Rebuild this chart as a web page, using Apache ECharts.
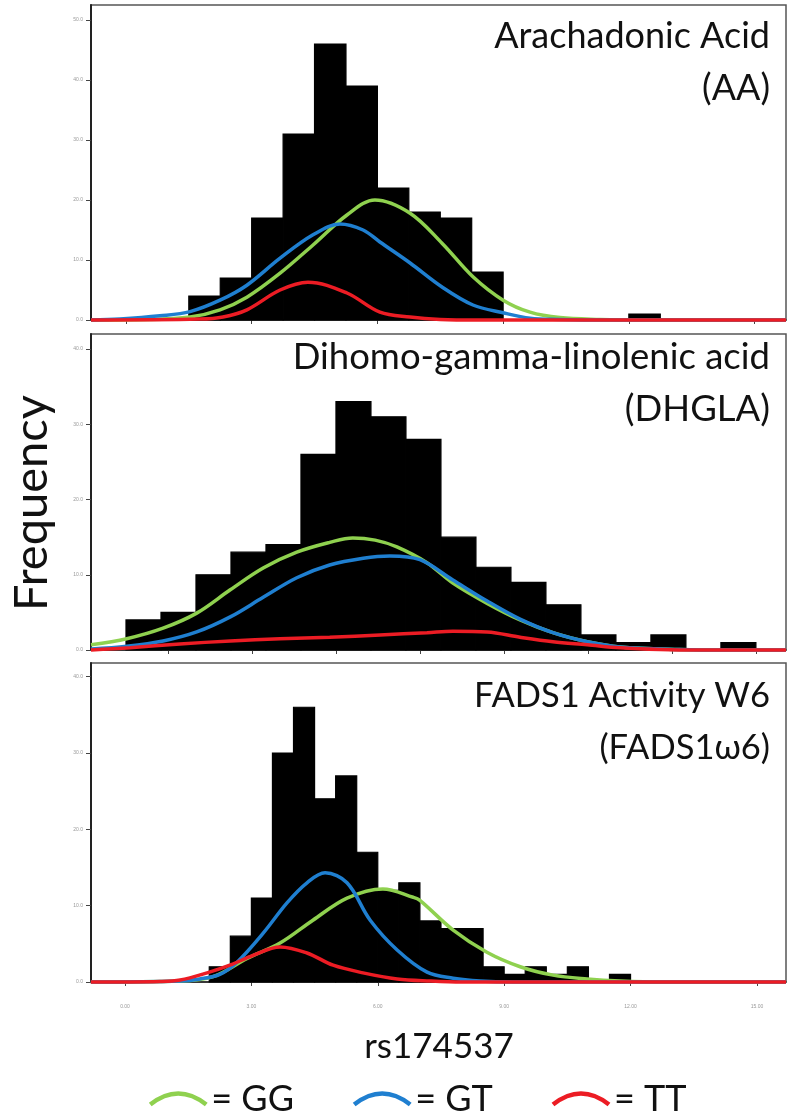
<!DOCTYPE html>
<html><head><meta charset="utf-8">
<script src="https://cdn.jsdelivr.net/npm/echarts@6/dist/echarts.min.js"></script>
<style>html,body{margin:0;padding:0;background:#fff}#c{width:797px;height:1116px}</style>
</head><body><div id="c"></div>
<script>
// ---------- Panel 1: Arachadonic Acid (AA) ----------
const aaBinStart = [2.5, 3.75, 5, 6.25, 7.5, 8.75, 10, 11.25, 12.5, 13.75, 15, 16.25, 17.5, 18.75, 20];
const aaBinWidth = 1.25;
const aaCounts = [4, 7, 17, 31, 46, 39, 22, 18, 17, 8, 0, 0, 0, 0, 1];
const aaGG = [[-1.39,0],[0.95,0.08],[2.55,0.5],[3.74,1.7],[4.81,3.8],[6.13,7.8],[7.44,12.5],[8.79,17.5],[9.9,20],[11.3,17.8],[12.57,12.8],[13.8,7.2],[15.0,3.3],[16.07,1.3],[17.26,0.4],[18.85,0.1],[20.5,0],[26.25,0]];
const aaGT = [[-1.39,0],[-0.24,0.17],[1.35,0.7],[2.55,1.4],[3.74,3.3],[4.81,5.8],[6.13,10.3],[7.44,14.2],[8.51,16],[9.43,15],[10.1,13],[11.3,9.5],[12.57,5.5],[13.8,2.5],[15.0,1.2],[16.07,0.3],[17.26,0.1],[19,0],[26.25,0]];
const aaTT = [[-1.39,0],[2.94,0.15],[3.86,0.5],[4.81,1.7],[6.13,5],[7.24,6.3],[8.79,4.5],[10.1,1.3],[11.3,0.5],[12.5,0.1],[14,0],[26.25,0]];
const aaXTicks = [0, 5, 10, 15, 20, 25];
const aaYTicks = [0, 10, 20, 30, 40, 50];

// ---------- Panel 2: DHGLA ----------
const dgBinStart = [-18, -13, -8, -3, 2, 7, 12, 17, 22, 27, 32, 37, 42, 47, 52, 57, 62, 67];
const dgBinWidth = 5;
const dgCounts = [4, 5, 10, 13, 14, 26, 33, 31, 28, 15, 11, 9, 6, 2, 1, 2, 0, 1];
const dgGG = [[-23,0.7],[-17.9,1.5],[-12.7,2.9],[-7.9,4.9],[-3.1,8.0],[1.6,10.9],[6.4,13.0],[11.1,14.3],[14.4,14.9],[17.6,14.6],[20.7,13.7],[25,11.6],[28.7,8.9],[33.6,6.2],[38.3,4.0],[43,2.3],[47.9,1.1],[52.6,0.4],[61.1,0.07],[68,0],[76.3,0]];
const dgGT = [[-23,0.13],[-17.9,0.5],[-12.7,1.2],[-7.9,2.4],[-3.1,4.4],[1.6,7.0],[6.4,9.6],[11.1,11.3],[15.9,12.2],[19.7,12.5],[24,12.0],[28.7,9.3],[33.6,6.5],[38.3,4.1],[43,2.3],[47.9,1.1],[52.6,0.4],[61.1,0.07],[68,0],[76.3,0]];
const dgTT = [[-23,0],[-17.4,0.3],[-10.3,0.8],[-3.1,1.2],[4,1.5],[11.1,1.7],[18.3,2.0],[25,2.3],[28.7,2.5],[33.6,2.4],[38.3,1.7],[43,1.1],[47.9,0.7],[52.6,0.3],[58.3,0.07],[64,0],[76.3,0]];
const dgXTicks = [-12, 0, 12, 24, 36, 48, 60, 72];
const dgYTicks = [0, 10, 20, 30, 40];

// ---------- Panel 3: FADS1 Activity W6 ----------
const fdBinStart = [2, 2.5, 3, 3.5, 4, 4.5, 5, 5.5, 6, 6.5, 7, 7.5, 8, 8.5, 9, 9.5, 10, 10.5, 11, 11.5];
const fdBinWidth = 0.5;
const fdCounts = [2, 6, 11, 30, 36, 24, 27, 17, 12, 13, 8, 7, 7, 2, 1, 2, 1, 2, 0, 1];
const fdGG = [[-0.81,0],[1.31,0.13],[2.09,0.7],[2.9,3.1],[3.68,5.1],[4.46,8.1],[5.27,11.0],[6.12,12.2],[6.84,11.1],[7.0,10.7],[7.79,6.8],[8.59,3.9],[9.38,2.0],[10.16,0.9],[10.97,0.4],[11.75,0.13],[12.8,0],[15.69,0]];
const fdGT = [[-0.81,0],[1.31,0.13],[1.78,0.4],[2.25,1.0],[2.66,2.6],[3.28,6.4],[3.85,10.4],[4.32,13.0],[4.75,14.3],[5.27,13.0],[5.82,8.1],[6.46,4.2],[7.17,1.3],[7.79,0.5],[8.43,0.13],[9.2,0],[15.69,0]];
const fdTT = [[-0.81,0],[0.83,0.07],[1.31,0.26],[1.95,1.2],[2.49,2.2],[3.04,3.5],[3.68,4.6],[4.32,3.8],[4.94,2.2],[5.65,1.2],[6.46,0.4],[7.24,0.13],[8.0,0],[15.69,0]];
const fdXTicks = [0, 3, 6, 9, 12, 15];
const fdYTicks = [0, 10, 20, 30, 40];

const panelTitles = ['Arachadonic Acid\n(AA)', 'Dihomo-gamma-linolenic acid\n(DHGLA)', 'FADS1 Activity W6\n(FADS1\u03C96)'];
const yTitle = 'Frequency';
const xTitle = 'rs174537';
const genotypes = ['GG', 'GT', 'TT'];
const genoColors = ['#8fd14f', '#1f7fd0', '#ec1c24'];

const chart = echarts.init(document.getElementById('c'), null, {renderer: 'canvas'});

const grids = [
  {left: 91, top: 5, width: 695, height: 315},
  {left: 91, top: 334, width: 695, height: 316},
  {left: 91, top: 663, width: 695, height: 319}
].map(g => Object.assign(g, {show: true, borderColor: '#555', borderWidth: 1.5, containLabel: false}));

const xRanges = [[-1.39, 26.25, aaXTicks], [-23, 76.3, dgXTicks], [-0.807, 15.69, fdXTicks]];
const yRanges = [[52.5, aaYTicks], [42, dgYTicks], [41.8, fdYTicks]];

const xAxes = xRanges.map((r, i) => ({
  type: 'value', gridIndex: i, min: r[0], max: r[1],
  splitLine: {show: false},
  axisLine: {show: true, onZero: false, lineStyle: {color: '#222', width: 1.5}},
  axisTick: {show: true, length: 4, customValues: r[2], lineStyle: {color: '#444', width: 1}},
  axisLabel: {show: i === 2, customValues: r[2], fontSize: 5, color: '#999', margin: 22,
    formatter: v => v.toFixed(2)}
}));
const yAxes = yRanges.map((r, i) => ({
  type: 'value', gridIndex: i, min: 0, max: r[0],
  splitLine: {show: false},
  axisLine: {show: true, onZero: false, lineStyle: {color: '#222', width: 2}},
  axisTick: {show: true, length: 5, customValues: r[1], lineStyle: {color: '#444', width: 1}},
  axisLabel: {show: true, customValues: r[1], fontSize: 5, color: '#999', margin: 8,
    formatter: v => v.toFixed(1)}
}));

function histRender(params, api) {
  const x0 = api.value(0), x1 = api.value(1), v = api.value(2);
  const p0 = api.coord([x0, v]);
  const p1 = api.coord([x1, 0]);
  return {type: 'rect', shape: {x: p0[0], y: p0[1], width: p1[0] - p0[0], height: p1[1] - p0[1]},
    style: {fill: '#000', stroke: '#000', lineWidth: v > 0 ? 1.2 : 0}};
}

const panels = [
  [aaBinStart, aaBinWidth, aaCounts, [aaGG, aaGT, aaTT]],
  [dgBinStart, dgBinWidth, dgCounts, [dgGG, dgGT, dgTT]],
  [fdBinStart, fdBinWidth, fdCounts, [fdGG, fdGT, fdTT]]
];

const series = [];
panels.forEach((p, i) => {
  series.push({
    type: 'custom', xAxisIndex: i, yAxisIndex: i, renderItem: histRender,
    encode: {x: [0, 1], y: 2},
    data: p[0].map((s, k) => [s, s + p[1], p[2][k]]), z: 1, silent: true
  });
  p[3].forEach((curve, j) => {
    series.push({
      type: 'line', name: genotypes[j], xAxisIndex: i, yAxisIndex: i, data: curve,
      smooth: 0.35, showSymbol: false, clip: false, silent: true, z: 3 + j,
      lineStyle: {color: genoColors[j], width: 3.5}, itemStyle: {color: genoColors[j]}
    });
  });
});

const titleTops = [10, 331, 670];
const titleSizes = [36, 36.5, 34.5];
const graphic = panelTitles.map((t, i) => ({
  type: 'text', x: 770, y: titleTops[i], silent: true,
  style: {text: t, fontFamily: 'Lato', fontSize: titleSizes[i], lineHeight: 52, fill: '#111',
    align: 'right', textAlign: 'right', verticalAlign: 'top', textVerticalAlign: 'top'}
}));
graphic.push({
  type: 'text', x: 32, y: 503, rotation: Math.PI / 2, silent: true,
  style: {text: yTitle, fontFamily: 'Lato', fontSize: 47, fill: '#111',
    align: 'center', textAlign: 'center', verticalAlign: 'middle', textVerticalAlign: 'middle'}
});
graphic.push({
  type: 'text', x: 439, y: 1047, silent: true,
  style: {text: xTitle, fontFamily: 'Lato', fontSize: 35, fill: '#111',
    align: 'center', textAlign: 'center', verticalAlign: 'middle', textVerticalAlign: 'middle'}
});

chart.setOption({
  animation: false,
  backgroundColor: '#fff',
  grid: grids,
  xAxis: xAxes,
  yAxis: yAxes,
  series: series,
  graphic: graphic,
  legend: {
    left: 143, top: 1076, itemWidth: 56, itemHeight: 16, itemGap: 58, selectedMode: false,
    icon: 'path://M0,16 Q28,-6 56,16',
    formatter: '= {name}',
    textStyle: {fontFamily: 'Lato', fontSize: 36, color: '#111'},
    data: genotypes.map((g, j) => ({name: g,
      itemStyle: {color: 'rgba(0,0,0,0)', borderColor: genoColors[j], borderWidth: 4.5}}))
  }
});
</script></body></html>
